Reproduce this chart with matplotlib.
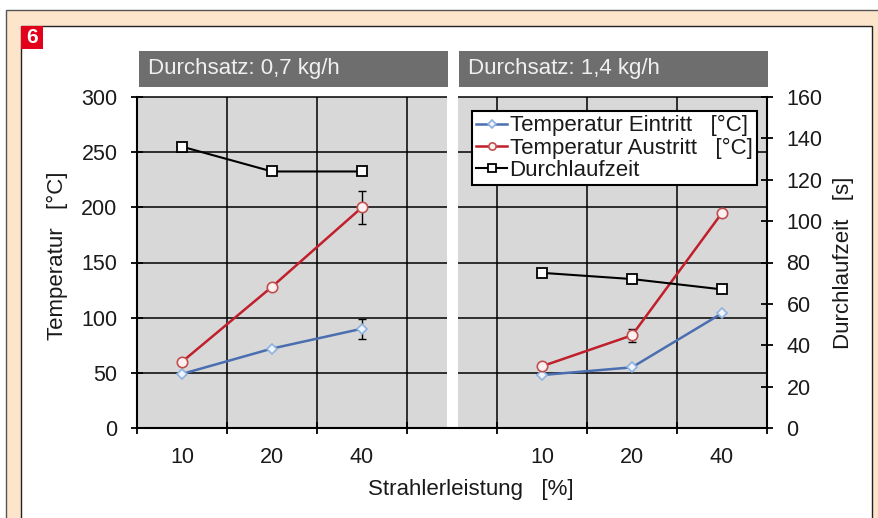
import matplotlib
matplotlib.use("Agg")
import matplotlib.pyplot as plt
from matplotlib.patches import Rectangle
import numpy as np

plt.rcParams['font.family'] = ['Liberation Sans', 'DejaVu Sans']

# ---- data -------------------------------------------------------------
categories = ['10', '20', '40']                 # Strahlerleistung [%]
panel_titles = ['Durchsatz: 0,7 kg/h', 'Durchsatz: 1,4 kg/h']

t_ein_07 = [49, 72, 90]          # Temperatur Eintritt [°C], 0,7 kg/h
t_ein_07_err = [0, 0, 9]
t_aus_07 = [60, 128, 200]        # Temperatur Austritt [°C], 0,7 kg/h
t_aus_07_err = [0, 0, 15]
zeit_07 = [136, 124, 124]        # Durchlaufzeit [s], 0,7 kg/h

t_ein_14 = [48, 55, 104]         # Temperatur Eintritt [°C], 1,4 kg/h
t_ein_14_err = [0, 0, 0]
t_aus_14 = [56, 84, 195]         # Temperatur Austritt [°C], 1,4 kg/h
t_aus_14_err = [0, 6, 0]
zeit_14 = [75, 72, 67]           # Durchlaufzeit [s], 1,4 kg/h

# ---- styles -----------------------------------------------------------
BLUE = '#4a6eb0'
RED = '#c01f2b'
GRAY_BG = '#d8d8d8'
HEADER = '#6e6e6e'
TXT = '#1a1a1a'

W, H = 879, 518
fig = plt.figure(figsize=(W / 100, H / 100), dpi=100)
fig.patch.set_facecolor('white')

# page frame (behind the axes)
fig.add_artist(Rectangle((6 / W, -0.02), 1.0, (H - 10) / H + 0.02,
                         transform=fig.transFigure, facecolor='#fde5cc',
                         edgecolor='#555555', lw=1.0, zorder=-10))
fig.add_artist(Rectangle((21 / W, -0.02), (872 - 21) / W, (H - 25.5) / H + 0.02,
                         transform=fig.transFigure, facecolor='white',
                         edgecolor='#222222', lw=1.0, zorder=-9))
# figure number badge
fig.add_artist(Rectangle((21 / W, 1 - 49 / H), 22 / W, 23 / H,
                         transform=fig.transFigure, facecolor='#e2001a', lw=0,
                         zorder=-8))
fig.text(32 / W, 1 - 37.5 / H, '6', color='white', fontsize=15,
         fontweight='bold', ha='center', va='center')

# ---- axes -------------------------------------------------------------
ax = fig.add_axes([137 / W, 1 - 428 / H, 630 / W, 331 / H])
ax.set_xlim(0, 7)
ax.set_ylim(0, 300)
ax.set_facecolor(GRAY_BG)
ax.set_axisbelow(True)
ax.set_xticks(range(8))
ax.set_xticklabels([])
ax.set_yticks(range(0, 301, 50))
ax.grid(True, color='black', lw=1.1)
for gl in ax.get_ygridlines():
    gl.set_clip_on(False)

# white separator between the two throughput panels
ax.axvspan(3.444, 3.567, ymin=0, ymax=1.01, color='white', lw=0,
           zorder=1, clip_on=False)

for s in ('top', 'right'):
    ax.spines[s].set_visible(False)
for s in ('left', 'bottom'):
    ax.spines[s].set_linewidth(1.5)
    ax.spines[s].set_color('black')

ax.tick_params(axis='y', direction='inout', length=9, width=1.3,
               labelsize=15.5, pad=9.5, labelcolor=TXT)
ax.tick_params(axis='x', which='major', direction='inout', length=9,
               width=1.3)

x_left = np.arange(3) + 0.5
x_right = np.arange(3) + 4.5
ax.set_xticks(np.concatenate([x_left, x_right]), minor=True)
ax.set_xticklabels(categories * 2, minor=True)
ax.tick_params(axis='x', which='minor', length=0, pad=13.5,
               labelsize=15.5, labelcolor=TXT)

ax2 = ax.twinx()
ax2.set_ylim(0, 160)
ax2.set_yticks(range(0, 161, 20))
for s in ('top', 'left', 'bottom'):
    ax2.spines[s].set_visible(False)
ax2.spines['right'].set_linewidth(1.5)
ax2.tick_params(axis='y', direction='inout', length=9, width=1.3,
                labelsize=15.5, pad=9.5, labelcolor=TXT)

# axis titles
ax.set_ylabel('Temperatur   [°C]', fontsize=16, color=TXT, va='center')
ax.yaxis.set_label_coords(-0.127, 0.52)
ax2.set_ylabel('Durchlaufzeit   [s]', fontsize=16, color=TXT, va='center')
ax2.yaxis.set_label_coords(1.121, 0.5)
ax.set_xlabel('Strahlerleistung   [%]', fontsize=16, color=TXT, va='center')
ax.xaxis.set_label_coords(0.530, -0.187)

# panel headers
for x0, title in ((0.003, panel_titles[0]), (0.511, panel_titles[1])):
    ax.add_patch(Rectangle((x0, 1.030), 0.491, 0.109, transform=ax.transAxes,
                           facecolor=HEADER, lw=0, clip_on=False))
    ax.text(x0 + 0.015, 1.085, title, transform=ax.transAxes, fontsize=16,
            color='#f0f0f0', ha='left', va='center')

# ---- series -----------------------------------------------------------
handles = []
for xs, ein, ein_err, aus, aus_err, zeit in (
        (x_left, t_ein_07, t_ein_07_err, t_aus_07, t_aus_07_err, zeit_07),
        (x_right, t_ein_14, t_ein_14_err, t_aus_14, t_aus_14_err, zeit_14)):
    ax.errorbar(xs, ein, yerr=ein_err, fmt='none', ecolor='black',
                elinewidth=1, capsize=3, capthick=1, zorder=2.8)
    ax.errorbar(xs, aus, yerr=aus_err, fmt='none', ecolor='black',
                elinewidth=1, capsize=3, capthick=1, zorder=2.8)
    h1, = ax.plot(xs, ein, color=BLUE, lw=1.8, marker='D', ms=5.3,
                  mfc='#eef4fb', mec='#8fb2e0', mew=1.2, zorder=3)
    h2, = ax.plot(xs, aus, color=RED, lw=1.8, marker='o', ms=7.5,
                  mfc='#fdf0f0', mec='#c05050', mew=1.2, zorder=3.1)
    h3, = ax2.plot(xs, zeit, color='black', lw=1.5, marker='s', ms=7.5,
                   mfc='white', mec='black', mew=1.3, zorder=3)
    if not handles:
        handles = [h1, h2, h3]

leg = ax2.legend(handles,
                 ['Temperatur Eintritt   [°C]',
                  'Temperatur Austritt   [°C]',
                  'Durchlaufzeit'],
                 loc='upper right', bbox_to_anchor=(0.984, 0.958),
                 fontsize=16, frameon=True, fancybox=False,
                 edgecolor='black', framealpha=1, borderpad=0.2,
                 labelspacing=0.05, handlelength=1.4, handletextpad=0.1,
                 markerscale=0.7, borderaxespad=0)
leg.get_frame().set_linewidth(1.5)
for t in leg.get_texts():
    t.set_color(TXT)

fig.savefig('out.png', dpi=100)
